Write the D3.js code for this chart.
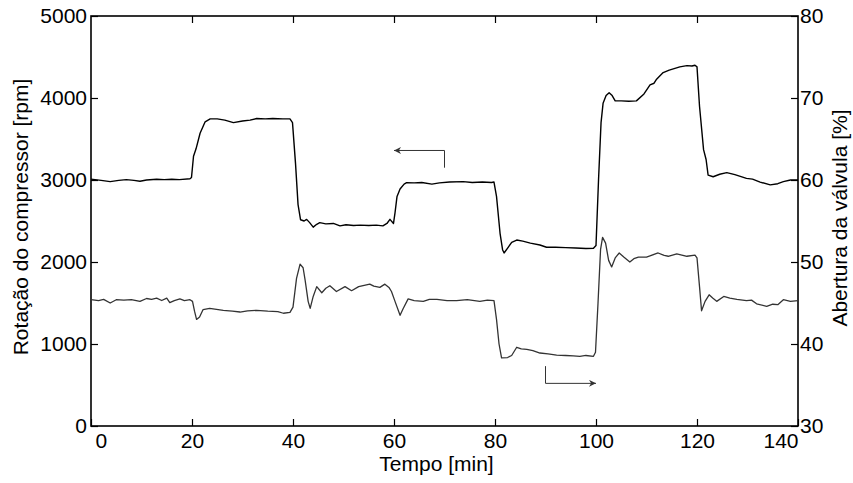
<!DOCTYPE html>
<html lang="pt">
<head>
    <meta charset="utf-8">
    <title>Rotação e abertura da válvula</title>
    <style>
        body { margin: 0; background: #fff; }
        text { font-family: "Liberation Sans", Arial, sans-serif; fill: #000; }
    </style>
</head>
<body>

<div id="chart"></div>

<script src="https://d3js.org/d3.v7.min.js"></script>

<script type="text/javascript">

    // tempo [min] e rotação do compressor [rpm] (eixo esquerdo)
    var tempoRot = [0, 2, 3.8, 5.5, 7, 8.5, 9.7, 11, 13, 14.5, 16, 17.5, 19.6, 19.9, 20.3, 20.8, 21.6, 22.6, 23.6, 25,
        26.5, 28.2, 30, 31.5, 32.8, 34.5, 36, 38, 39.4, 39.9, 40.5, 41, 41.5, 42.2, 42.7, 43.3, 44, 44.7, 45.3, 46.5,
        48, 49.3, 50.5, 52, 53.3, 55, 56.5, 57.8, 58.6, 59.2, 59.9, 60.2, 60.6, 61.2, 62, 62.5, 64, 65.5, 67.5, 69,
        71, 73.7, 75.5, 77.5, 79.3, 79.8, 80.3, 81, 81.5, 81.8, 82.5, 83.3, 84.3, 85.5, 87, 88.9, 90.2, 92, 94, 96,
        98, 99.5, 100, 100.5, 101, 101.4, 102, 102.6, 103.2, 103.8, 105, 106.5, 108, 109.5, 110.7, 111.5, 112, 113.3, 114.5, 116.6,
        118, 119, 119.6, 120, 120.5, 121.3, 121.8, 122.2, 123.2, 124.5, 125.9, 127.5, 129.8, 131, 132.5, 134.5, 136, 137.1, 138.5, 140];
    var rotacao = [3010, 2995, 2980, 2995, 3005, 2995, 2985, 3000, 3010, 3005, 3010, 3005, 3015, 3030, 3290, 3380, 3570, 3710, 3745, 3745,
        3730, 3700, 3720, 3730, 3750, 3745, 3750, 3745, 3745, 3700, 3200, 2700, 2515, 2500, 2520, 2480, 2425, 2460, 2480, 2465,
        2470, 2440, 2455, 2445, 2450, 2445, 2450, 2440, 2470, 2520, 2470, 2600, 2800, 2890, 2950, 2967, 2965, 2970, 2950, 2965,
        2975, 2980, 2970, 2975, 2970, 2975, 2800, 2350, 2150, 2110, 2170, 2240, 2268, 2255, 2230, 2207, 2180, 2180, 2175, 2170,
        2165, 2167, 2200, 3000, 3700, 3935, 4030, 4065, 4030, 3965, 3965, 3960, 3965, 4050, 4160, 4180, 4230, 4310, 4340, 4380,
        4395, 4390, 4400, 4380, 3900, 3370, 3250, 3060, 3040, 3070, 3090, 3065, 3020, 3010, 2975, 2940, 2955, 2980, 3000, 3000];

    // tempo [min] e abertura da válvula [%] (eixo direito)
    var tempoAb = [0, 1.5, 2.5, 3.8, 5, 6.5, 8, 9.7, 11, 12, 13, 14, 15, 15.6, 16.5, 17.6, 18.5, 19.6, 20.1, 20.5,
        20.9, 21.5, 22.2, 23.5, 26.2, 28, 29.5, 31, 32.8, 35, 37, 38.1, 39.4, 40, 40.7, 41.4, 42, 42.4, 43, 43.4,
        44, 44.7, 45.7, 46.5, 47.3, 48.6, 50.3, 51.6, 53, 55.2, 56, 57.2, 58.2, 59, 59.5, 60.2, 61.2, 61.8, 62.8, 64,
        65.8, 67, 68.5, 70.5, 72.4, 74.5, 77, 78.5, 79.8, 80.3, 80.8, 81.3, 82.5, 83.3, 84.3, 85.2, 86.3, 87.5, 88.9, 90.5,
        92.2, 94, 95.5, 96.8, 98, 99.5, 99.9, 100.4, 100.9, 101.3, 101.9, 102.5, 103.1, 103.8, 104.6, 105.5, 106.7, 107.5, 108.4, 110,
        112.3, 113.5, 114.3, 116, 118, 119.6, 120, 120.5, 120.9, 121.6, 122.4, 123.1, 123.9, 125.3, 126.5, 127.9, 129.8, 130.8, 131.8, 133.8,
        135, 136, 137.1, 138.5, 140];
    var abertura = [45.4, 45.3, 45.45, 45.0, 45.4, 45.35, 45.4, 45.2, 45.55, 45.45, 45.6, 45.3, 45.6, 45.05, 45.3, 45.5, 45.3, 45.4, 45.2, 44.0,
        43.0, 43.3, 44.2, 44.35, 44.1, 44.0, 43.9, 44.05, 44.1, 44.0, 43.95, 43.75, 43.85, 44.5, 48, 49.75, 49.3, 47.8, 45.2, 44.35,
        45.8, 47.0, 46.25, 46.8, 47.1, 46.4, 47.0, 46.5, 47.0, 47.3, 47.05, 46.9, 47.3, 46.9, 46.4, 45.2, 43.5, 44.3, 45.5, 45.3,
        45.2, 45.45, 45.45, 45.3, 45.3, 45.4, 45.2, 45.35, 45.3, 43, 40, 38.3, 38.35, 38.6, 39.6, 39.4, 39.35, 39.2, 38.9, 38.8,
        38.65, 38.6, 38.55, 38.5, 38.6, 38.5, 39, 45, 51.5, 53.0, 52.3, 50.2, 49.4, 50.5, 51.1, 50.6, 50.0, 50.4, 50.6, 50.6,
        51.1, 50.8, 50.7, 51.0, 50.7, 50.85, 50.5, 47, 44.05, 45.2, 46.0, 45.6, 45.2, 45.8, 45.6, 45.45, 45.3, 45.35, 44.9, 44.6,
        44.85, 44.8, 45.4, 45.2, 45.3];

    var xTicks = [0, 20, 40, 60, 80, 100, 120, 140];
    var yLeftTicks = [0, 1000, 2000, 3000, 4000, 5000];
    var yRightTicks = [30, 40, 50, 60, 70, 80];

    // setas: [tempo, valor] em coordenadas de dados
    var setaRot = [[70, 3150], [70, 3360], [60, 3360]];
    var setaAb = [[90, 37.3], [90, 35.2], [100, 35.2]];

    var totalWidth = 853,
            totalHeight = 483;
    var margin = {left: 91, right: 55, top: 16, bottom: 57};
    var width = totalWidth - margin.left - margin.right,
            height = totalHeight - margin.top - margin.bottom;

    var fontSize = 21;

    var svg = d3.select("#chart")
            .append("svg")
            .attr("width", totalWidth)
            .attr("height", totalHeight);

    var defs = svg.append("defs");
    defs.append("marker")
            .attr("id", "seta")
            .attr("viewBox", "0 0 10 10")
            .attr("refX", 10)
            .attr("refY", 5)
            .attr("markerWidth", 9)
            .attr("markerHeight", 7)
            .attr("markerUnits", "userSpaceOnUse")
            .attr("orient", "auto")
            .append("path")
            .attr("d", "M0,0 L10,5 L0,10 L3,5 Z")
            .style("fill", "#333");

    var g = svg.append("g")
            .attr("transform", "translate(" + margin.left + "," + margin.top + ")");

    var x = d3.scaleLinear().domain([0, 140]).range([0, width]);
    var yL = d3.scaleLinear().domain([0, 5000]).range([height, 0]);
    var yR = d3.scaleLinear().domain([30, 80]).range([height, 0]);

    var fmt = d3.format("d");

    // eixos com marcas para dentro
    var xAxis = g.append("g")
            .attr("transform", "translate(0," + height + ")")
            .call(d3.axisBottom(x).tickValues(xTicks).tickFormat(fmt).tickSizeInner(-7).tickSizeOuter(0).tickPadding(7));

    g.append("g")
            .call(d3.axisTop(x).tickValues(xTicks.slice(1, -1)).tickSizeInner(-7).tickSizeOuter(0).tickFormat(""));

    g.append("g")
            .call(d3.axisLeft(yL).tickValues(yLeftTicks).tickFormat(fmt).tickSizeInner(-7).tickSizeOuter(0).tickPadding(4));

    g.append("g")
            .attr("transform", "translate(" + width + ",0)")
            .call(d3.axisRight(yR).tickValues(yRightTicks).tickFormat(fmt).tickSizeInner(-7).tickSizeOuter(0).tickPadding(2));

    g.selectAll(".domain").remove();
    g.selectAll(".tick line").style("stroke", "#000").style("stroke-width", 1.2);
    g.selectAll(".tick text")
            .style("font-size", fontSize + "px")
            .style("font-family", "'Liberation Sans', Arial, sans-serif")
            .style("fill", "#000");

    // primeiro e último rótulo do eixo x como no original
    xAxis.selectAll(".tick text")
            .filter(function (d) { return d === 0; })
            .attr("text-anchor", "start")
            .attr("x", 4);
    xAxis.selectAll(".tick text")
            .filter(function (d) { return d === 140; })
            .attr("text-anchor", "end")
            .attr("x", 0);

    // moldura
    g.append("rect")
            .attr("x", 0)
            .attr("y", 0)
            .attr("width", width)
            .attr("height", height)
            .style("fill", "none")
            .style("stroke", "#000")
            .style("stroke-width", 1.6);

    var lineRot = d3.line()
            .x(function (d, i) { return x(tempoRot[i]); })
            .y(function (d) { return yL(d); });

    var lineAb = d3.line()
            .x(function (d, i) { return x(tempoAb[i]); })
            .y(function (d) { return yR(d); });

    g.append("path")
            .datum(rotacao)
            .attr("d", lineRot)
            .style("fill", "none")
            .style("stroke", "#000")
            .style("stroke-width", 1.4)
            .style("stroke-linejoin", "round");

    g.append("path")
            .datum(abertura)
            .attr("d", lineAb)
            .style("fill", "none")
            .style("stroke", "#333")
            .style("stroke-width", 1.3)
            .style("stroke-linejoin", "round");

    // setas indicando o eixo de cada curva
    g.append("path")
            .datum(setaRot)
            .attr("d", d3.line()
                    .x(function (d) { return x(d[0]); })
                    .y(function (d) { return yL(d[1]); }))
            .attr("marker-end", "url(#seta)")
            .style("fill", "none")
            .style("stroke", "#333")
            .style("stroke-width", 1);

    g.append("path")
            .datum(setaAb)
            .attr("d", d3.line()
                    .x(function (d) { return x(d[0]); })
                    .y(function (d) { return yR(d[1]); }))
            .attr("marker-end", "url(#seta)")
            .style("fill", "none")
            .style("stroke", "#333")
            .style("stroke-width", 1);

    // títulos dos eixos
    svg.append("text")
            .attr("x", margin.left + width / 2 - 8)
            .attr("y", 471)
            .attr("text-anchor", "middle")
            .style("font-size", fontSize + "px")
            .text("Tempo [min]");

    svg.append("text")
            .attr("transform", "translate(28," + 217 + ") rotate(-90)")
            .attr("text-anchor", "middle")
            .style("font-size", fontSize + "px")
            .text("Rotação do compressor [rpm]");

    svg.append("text")
            .attr("transform", "translate(847," + 218 + ") rotate(-90)")
            .attr("text-anchor", "middle")
            .style("font-size", fontSize + "px")
            .text("Abertura da válvula [%]");
</script>
</body>
</html>
